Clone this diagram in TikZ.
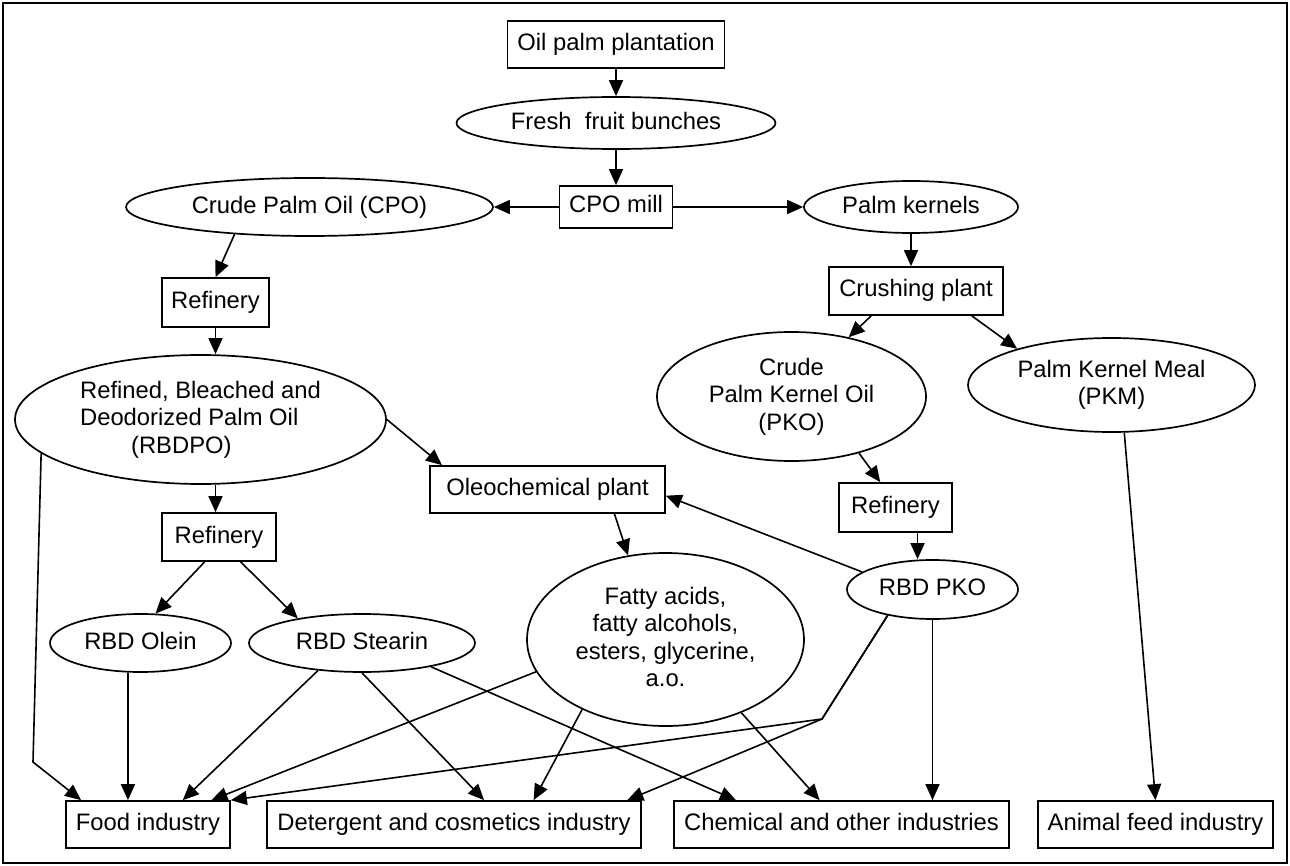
\documentclass[tikz,border=0pt]{standalone}
\usepackage{fontspec}
\setmainfont{Liberation Sans}
\usetikzlibrary{arrows.meta,shapes.geometric}

\begin{document}
\begin{tikzpicture}[x=1pt, y=-1pt,
    box/.style={draw, rectangle, line width=1.7, inner sep=0, text height=17pt, text depth=5pt, font=\fontsize{23.8}{27.5}\selectfont},
    oval/.style={draw, ellipse, line width=1.7, inner sep=0, text depth=5pt, align=center, font=\fontsize{23.8}{27.5}\selectfont},
    dims/.style 2 args={minimum width=#1, minimum height=#2},
    arr/.style={line width=1.6, -{Triangle[length=16pt, width=14pt]}}]
      \useasboundingbox (0, 0) rectangle (1290, 866);
      \draw[line width=2.8] (3, 3) rectangle (1287, 863);
      \node[box, dims={217}{47}] (oilpalm) at (616, 44.5) {Oil palm plantation};
      \node[oval, dims={319}{52}] (fresh) at (616, 123) {Fresh~~fruit bunches};
      \node[box, dims={113}{42}] (cpomill) at (616, 207) {CPO mill};
      \node[oval, dims={367}{58}] (cpo) at (309.5, 207) {Crude Palm Oil (CPO)};
      \node[oval, dims={214}{52}] (kernels) at (911, 207) {Palm kernels};
      \node[box, dims={107}{49}] (ref1) at (215.5, 302.5) {Refinery};
      \node[box, dims={174}{48}] (crushing) at (916, 291) {Crushing plant};
      \node[oval, dims={371}{129}, align=left] (rbdpo) at (200.5, 419.5) {Refined, Bleached and\\ Deodorized Palm Oil\\ \hspace*{51pt}(RBDPO)};
      \node[oval, dims={269}{129}] (cpko) at (791.5, 396.5) {Crude\\ Palm Kernel Oil\\ (PKO)};
      \node[oval, dims={287}{94}] (pkm) at (1111.5, 385) {Palm Kernel Meal\\ (PKM)};
      \node[box, dims={235}{47}] (oleo) at (547.5, 489.5) {Oleochemical plant};
      \node[box, dims={114}{48}] (ref2) at (219, 537) {Refinery};
      \node[box, dims={113}{49}] (ref3) at (895.5, 507.5) {Refinery};
      \node[oval, dims={171}{59}] (rbdpko) at (932.5, 589.5) {RBD PKO};
      \node[oval, dims={181}{58}] (olein) at (140.5, 643) {RBD Olein};
      \node[oval, dims={226}{58}] (stearin) at (362, 643) {RBD Stearin};
      \node[oval, dims={277}{173}] (fatty) at (665.5, 639.5) {Fatty acids,\\ fatty alcohols,\\ esters, glycerine,\\ a.o.};
      \node[box, dims={164}{47}] (food) at (148, 824.5) {Food industry};
      \node[box, dims={374}{47}] (deterg) at (454, 824.5) {Detergent and cosmetics industry};
      \node[box, dims={335}{47}] (chem) at (841.5, 824.5) {Chemical and other industries};
      \node[box, dims={235}{47}] (feed) at (1155.5, 824.5) {Animal feed industry};
      \coordinate (bendA) at (33, 762);
      \coordinate (bendB) at (822, 719);
      \draw[arr] (oilpalm.south) -- (fresh.north);
      \draw[arr] (fresh.south) -- (cpomill.north);
      \draw[arr] (cpomill.west) -- (cpo.east);
      \draw[arr] (cpomill.east) -- (kernels.west);
      \draw[arr] (cpo.200) -- (ref1.north);
      \draw[arr] (kernels.south) -- (kernels.south |- crushing.north);
      \draw[arr] (ref1.south) -- (ref1.south |- rbdpo.north);
      \draw[arr] (ref1.south |- rbdpo.south) -- (ref1.south |- ref2.north);
      \draw[arr] (rbdpo.east) -- (oleo.167);
      \draw[arr] (ref2.240) -- (olein.63);
      \draw[arr] (ref2.311) -- (stearin.159);
      \draw[arr] (crushing.209) -- (cpko.46);
      \draw[arr] (crushing.336) -- (pkm.159);
      \draw[arr] (cpko.320) -- (ref3.121);
      \draw[arr] (ref3.311) -- (ref3.311 |- rbdpko.north);
      \draw[arr] (rbdpko.166) -- (oleo.357);
      \draw[arr] (oleo.340) -- (fatty.114);
      \draw[arr] (rbdpo.192) -- (bendA) -- (food.160);
      \draw[arr] (olein.247) -- (olein.247 |- food.north);
      \draw[arr] (stearin.212) -- (food.35);
      \draw[arr] (fatty.194) -- (food.21);
      \draw[arr] (rbdpko.210) -- (bendB) -- (food.north east);
      \draw[arr] (rbdpko.210) -- (bendB) -- (deterg.8);
      \draw[arr] (stearin.south) -- (deterg.39);
      \draw[arr] (fatty.220) -- (deterg.17);
      \draw[arr] (stearin.341) -- (chem.167);
      \draw[arr] (fatty.316) -- (chem.132);
      \draw[arr] (rbdpko.south) -- (rbdpko.south |- chem.north);
      \draw[arr] (pkm.285) -- (feed.north);
    \end{tikzpicture}
\end{document}
